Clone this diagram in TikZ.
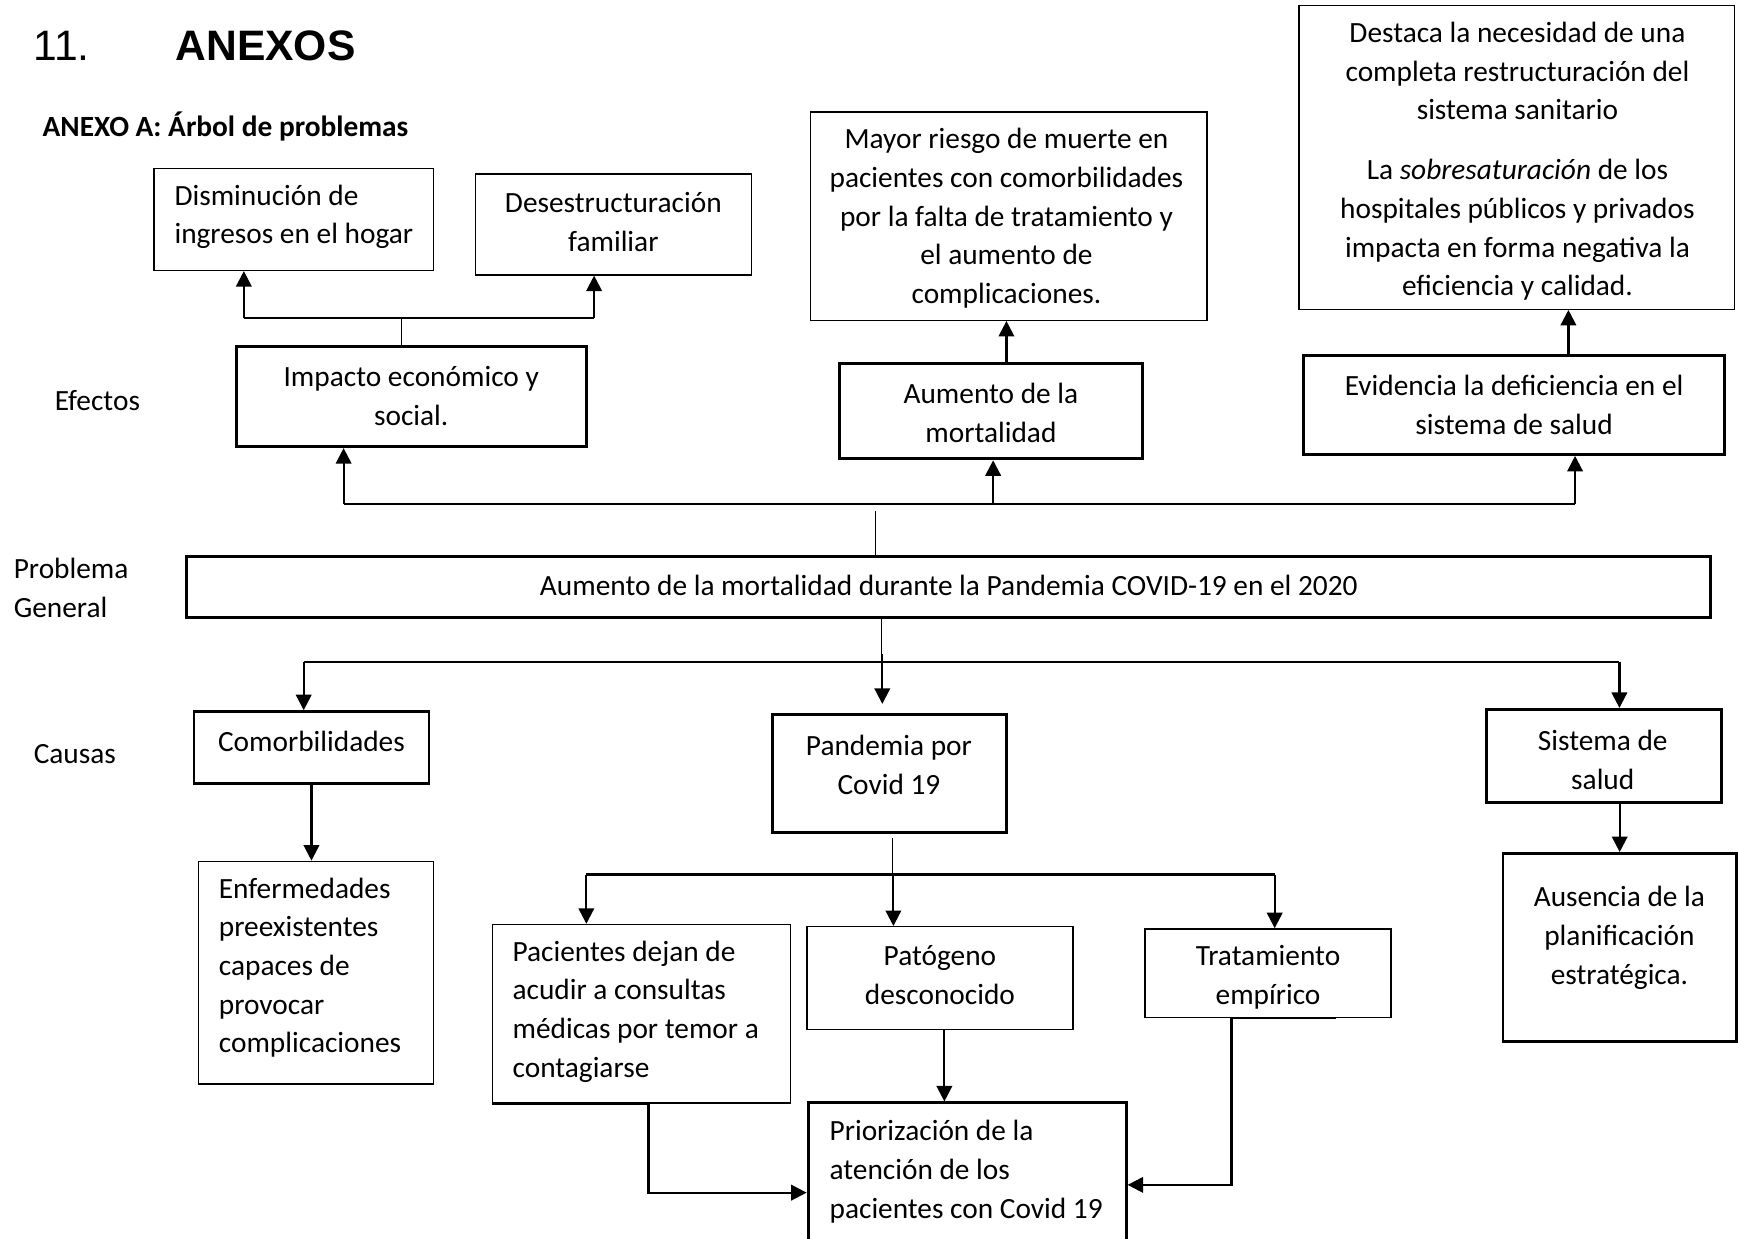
\documentclass[tikz,border=0pt]{standalone}
\usepackage{fontspec}
\setmainfont{Carlito}
\newfontfamily\arialfont{Liberation Sans}
\usetikzlibrary{arrows.meta}

\tikzset{
	thinbox/.style={shape=rectangle, draw, line width=0.5pt, inner sep=0pt},
	thickbox/.style={shape=rectangle, draw, line width=1.1pt, inner sep=0pt},
	boxtext/.style={anchor=center, align=center, inner sep=0pt},
	lefttext/.style={anchor=west, align=left, inner sep=0pt},
	arr/.style={line width=0.85pt, -{Triangle[length=2.1mm, width=2.1mm]}},
	bus/.style={line width=0.85pt},
	thinline/.style={line width=0.45pt}
}

\begin{document}
\begin{tikzpicture}[font=\fontsize{11.3}{14.9}\selectfont]
	\useasboundingbox (0,0) rectangle (23.52,-16.755);
	% Titles and side labels:
	\node[anchor=base west, inner sep=0pt, font=\arialfont\fontsize{16.4}{19}\selectfont] (num) at (0.45,-0.825){11.};
	\node[anchor=base west, inner sep=0pt, font=\arialfont\bfseries\fontsize{16.4}{19}\selectfont] (tit) at (2.37,-0.825){ANEXOS};
	\node[lefttext, font=\fontsize{11.3}{14.9}\selectfont\bfseries] (sub) at (0.57,-1.71){ANEXO A: Árbol de problemas};
	\node[lefttext] (efe) at (0.735,-5.415){Efectos};
	\node[lefttext] (pro) at (0.18,-7.958){Problema\\General};
	\node[lefttext] (cau) at (0.45,-10.2){Causas};
	% Effects:
	\node[thinbox, minimum width=3.78cm, minimum height=1.38cm] (dis) at (3.975,-2.97){} node[lefttext] (dis-t) at (2.355,-2.933){Disminución de\\ingresos en el hogar};
	\node[thinbox, minimum width=3.735cm, minimum height=1.365cm] (des) at (8.303,-3.038){} node[boxtext] (des-t) at (8.3,-3.008){Desestructuración\\familiar};
	\node[thickbox, minimum width=4.74cm, minimum height=1.35cm] (imp) at (5.565,-5.37){} node[boxtext] (imp-t) at (5.565,-5.363){Impacto económico y\\social.};
	\node[thinbox, minimum width=5.37cm, minimum height=2.82cm] (may) at (13.65,-2.925){} node[boxtext] (may-t) at (13.62,-2.955){Mayor riesgo de muerte en\\pacientes con comorbilidades\\por la falta de tratamiento y\\el aumento de\\complicaciones.};
	\node[thickbox, minimum width=4.11cm, minimum height=1.29cm] (aum) at (13.41,-5.565){} node[boxtext] (aum-t) at (13.41,-5.588){Aumento de la\\mortalidad};
	\node[thinbox, minimum width=5.895cm, minimum height=4.11cm] (sde) at (20.528,-2.13){} node[boxtext] (sde-t) at (20.535,-2.183){Destaca la necesidad de una\\completa restructuración del\\sistema sanitario\\[0.285cm]La \textit{sobresaturación} de los\\hospitales públicos y privados\\impacta en forma negativa la\\eficiencia y calidad.};
	\node[thickbox, minimum width=5.7cm, minimum height=1.335cm] (evi) at (20.49,-5.483){} node[boxtext] (evi-t) at (20.49,-5.483){Evidencia la deficiencia en el\\sistema de salud};
	% Problem:
	\node[thickbox, minimum width=20.625cm, minimum height=0.825cm] (main) at (12.833,-7.943){} node[boxtext] (main-t) at (12.84,-7.92){Aumento de la mortalidad durante la Pandemia COVID-19 en el 2020};
	% Causes:
	\node[thickbox, minimum width=3.18cm, minimum height=0.975cm] (com) at (4.215,-10.118){} node[boxtext] (com-t) at (4.215,-10.035){Comorbilidades};
	\node[thinbox, minimum width=3.18cm, minimum height=3.015cm] (enf) at (4.275,-13.163){} node[lefttext] (enf-t) at (2.955,-13.095){Enfermedades\\preexistentes\\capaces de\\provocar\\complicaciones};
	\node[thickbox, minimum width=3.165cm, minimum height=1.59cm] (pan) at (12.038,-10.47){} node[boxtext] (pan-t) at (12.03,-10.35){Pandemia por\\Covid 19};
	\node[thickbox, minimum width=3.18cm, minimum height=1.26cm] (sis) at (21.705,-10.23){} node[boxtext] (sis-t) at (21.69,-10.283){Sistema de\\salud};
	\node[thickbox, minimum width=3.158cm, minimum height=2.55cm] (aus) at (21.919,-12.825){} node[boxtext] (aus-t) at (21.915,-12.69){Ausencia de la\\planificación\\estratégica.};
	\node[thinbox, minimum width=4.035cm, minimum height=2.415cm] (pac) at (8.678,-13.718){} node[lefttext] (pac-t) at (6.93,-13.688){Pacientes dejan de\\acudir a consultas\\médicas por temor a\\contagiarse};
	\node[thinbox, minimum width=3.6cm, minimum height=1.395cm] (pat) at (12.72,-13.238){} node[boxtext] (pat-t) at (12.72,-13.193){Patógeno\\desconocido};
	\node[thinbox, minimum width=3.33cm, minimum height=1.2cm] (tra) at (17.16,-13.17){} node[boxtext] (tra-t) at (17.16,-13.223){Tratamiento\\empírico};
	\node[thickbox, minimum width=4.305cm, minimum height=2.1cm] (pri) at (13.088,-15.975){} node[lefttext] (pri-t) at (11.22,-15.855){Priorización de la\\atención de los\\pacientes con Covid 19};
	% Connectors:
	\coordinate (e1l) at (3.3,-4.305);
	\coordinate (e1r) at (8.04,-4.305);
	\coordinate (e1m) at (5.43,-4.305);
	\draw[bus] (e1l) -- (e1r);
	\draw[arr] (e1l) -- (e1l |- dis.south);
	\draw[arr] (e1r) -- (e1r |- des.south);
	\draw[thinline] (e1m) -- (e1m |- imp.north);
	\draw[arr] ([xshift=0.21cm]aum.north) -- ([xshift=0.21cm]aum.north |- may.south);
	\draw[arr] ([xshift=0.735cm]evi.north) -- ([xshift=0.735cm]evi.north |- sde.south);
	\coordinate (e2l) at (4.65,-6.825);
	\coordinate (e2r) at (21.315,-6.825);
	\coordinate (e2c) at (13.44,-6.825);
	\coordinate (e2m) at (11.85,-6.915);
	\draw[bus] (e2l) -- (e2r);
	\draw[arr] (e2l) -- (e2l |- imp.south);
	\draw[arr] (e2c) -- (e2c |- aum.south);
	\draw[arr] (e2r) -- (e2r |- evi.south);
	\draw[thinline] (main.north -| e2m) -- (e2m);
	\coordinate (c1l) at (4.11,-8.955);
	\coordinate (c1r) at (21.915,-8.955);
	\coordinate (c1m) at (11.925,-8.955);
	\coordinate (c1p) at (11.94,-8.85);
	\draw[thinline] (main.south -| c1m) -- (c1m);
	\draw[bus] (c1l) -- (c1r);
	\draw[arr] (c1l) -- (c1l |- com.north);
	\draw[arr, shorten >=1.3mm] (c1p) -- (c1p |- pan.north);
	\draw[arr] (c1r) -- (c1r |- sis.north);
	\draw[arr] (com.south) -- (com.south |- enf.north);
	\draw[arr] (sis.south -| aus.north) -- (aus.north);
	\coordinate (p1l) at (7.935,-11.835);
	\coordinate (p1r) at (17.25,-11.835);
	\coordinate (p1c) at (12.09,-11.835);
	\coordinate (p1m) at (12.075,-11.34);
	\draw[thinline] (p1m) -- (p1m |- p1l);
	\draw[bus] (p1l) -- (p1r);
	\draw[arr] (p1l) -- (p1l |- pac.north);
	\draw[arr] (p1c) -- (p1c |- pat.north);
	\draw[arr] (p1r) -- (p1r |- tra.north);
	\draw[arr] ([xshift=0.06cm]pat.south) -- ([xshift=0.06cm]pat.south |- pri.north);
	\coordinate (q1) at (8.775,-16.14);
	\coordinate (q2) at (16.665,-16.035);
	\coordinate (q3) at (18.075,-16.035);
	\draw[arr] (pac.south west) -- (q1 |- pac.south) -- (q1) -- (q1 -| pri.west);
	\draw[arr] (q3 |- tra.south) -- (q2 |- tra.south) -- (q2) -- (q2 -| pri.east);
\end{tikzpicture}
\end{document}
